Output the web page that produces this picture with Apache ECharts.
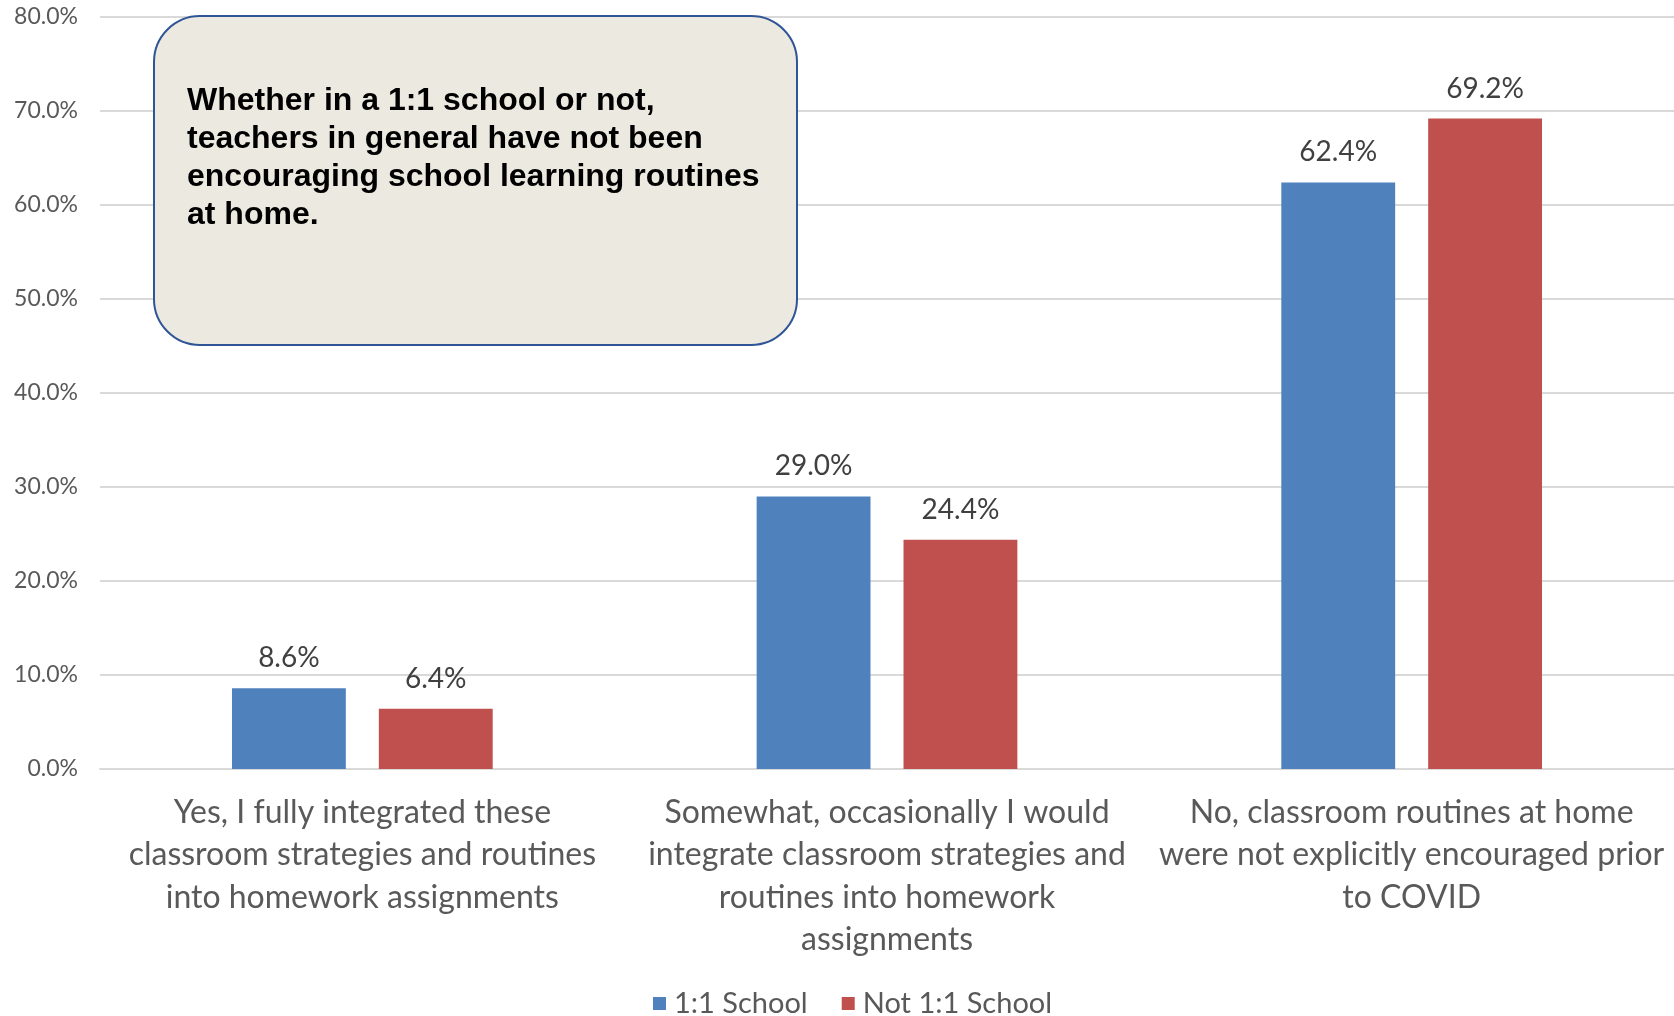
<!DOCTYPE html>
<html><head><meta charset="utf-8">
<script src="https://cdn.jsdelivr.net/npm/echarts@6/dist/echarts.min.js"></script>
<style>html,body{margin:0;padding:0;background:#fff}#c{width:1674px;height:1016px}</style>
</head><body><div id="c"></div>
<script>
const categories = [
  "Yes, I fully integrated these\nclassroom strategies and routines\ninto homework assignments",
  "Somewhat, occasionally I would\nintegrate classroom strategies and\nroutines into homework\nassignments",
  "No, classroom routines at home\nwere not explicitly encouraged prior\nto COVID"
];
const seriesNames = ["1:1 School", "Not 1:1 School"];
const oneToOne = [8.6, 29.0, 62.4];
const notOneToOne = [6.4, 24.4, 69.2];
const yTicks = { min: 0, max: 80, interval: 10 };
const calloutText = "Whether in a 1:1 school or not,\nteachers in general have not been\nencouraging school learning routines\nat home.";

const chart = echarts.init(document.getElementById('c'), null, {renderer: 'canvas'});
const labelStyle = {show: true, position: 'top', distance: 16, fontFamily: 'Lato', fontSize: 28, color: '#404040',
  formatter: p => p.value.toFixed(1) + '%'};
chart.setOption({
  animation: false,
  textStyle: {fontFamily: 'Lato'},
  grid: {left: 100, right: 0, top: 17, bottom: 247, containLabel: false},
  legend: {
    data: seriesNames, top: 984, left: 648, itemWidth: 13, itemHeight: 13, itemGap: 34,
    icon: 'rect', textStyle: {fontFamily: 'Lato', fontSize: 29, color: '#595959', padding: [0, 0, 0, 3]}
  },
  xAxis: {
    type: 'category', data: categories,
    axisLine: {show: true, lineStyle: {color: '#d9d9d9', width: 2}},
    axisTick: {show: false},
    axisLabel: {interval: 0, margin: 22, fontFamily: 'Lato', fontSize: 32, lineHeight: 42.5, color: '#595959', align: 'center'}
  },
  yAxis: {
    type: 'value', min: yTicks.min, max: yTicks.max, interval: yTicks.interval,
    axisLine: {show: false}, axisTick: {show: false},
    splitLine: {lineStyle: {color: '#d9d9d9', width: 2}},
    axisLabel: {margin: 22, fontFamily: 'Lato', fontSize: 23, color: '#595959', formatter: v => v.toFixed(1) + '%'}
  },
  series: [
    {name: seriesNames[0], type: 'bar', data: oneToOne, barWidth: '21.7%', barGap: '29%',
     itemStyle: {color: '#4f81bd'}, label: labelStyle},
    {name: seriesNames[1], type: 'bar', data: notOneToOne, barWidth: '21.7%',
     itemStyle: {color: '#c0504d'}, label: labelStyle}
  ],
  graphic: [
    {type: 'rect', left: 153, top: 15, z: 100,
     shape: {width: 643, height: 329, r: 46},
     style: {fill: '#ecEAE0', stroke: '#2f5597', lineWidth: 2}},
    {type: 'text', left: 187, top: 82, z: 101,
     style: {text: calloutText, fontFamily: 'Liberation Sans', fontWeight: 'bold', fontSize: 32, lineHeight: 38, fill: '#000'}}
  ]
});
</script></body></html>
